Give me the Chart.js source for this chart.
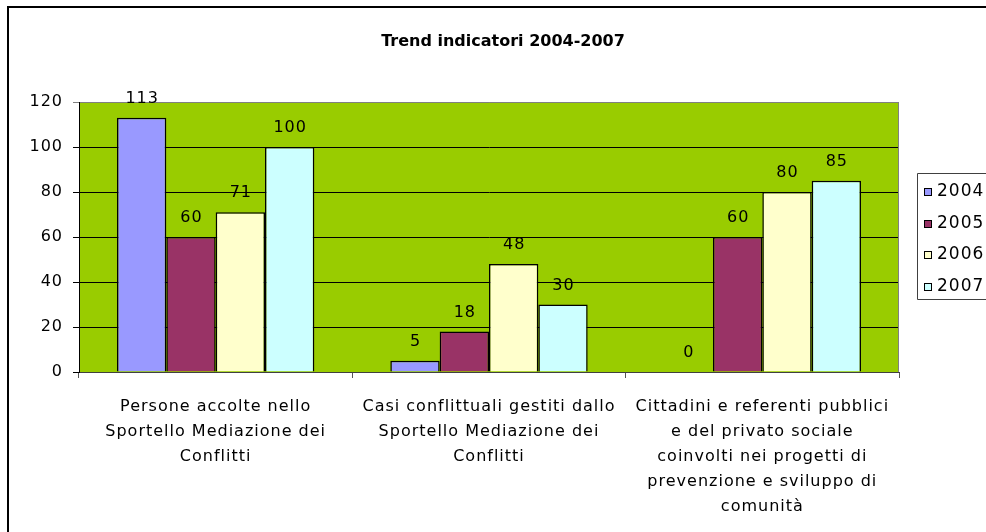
<!DOCTYPE html>
<html>
<head>
<meta charset="utf-8">
<script src="https://cdn.jsdelivr.net/npm/chart.js@4"></script>
<style>
  html, body { margin: 0; padding: 0; background: #ffffff; overflow: hidden; }
  #wrap { width: 986px; height: 532px; position: relative; overflow: hidden; }
  canvas { display: block; }
</style>
</head>
<body>
<div id="wrap"><canvas id="c" width="986" height="532"></canvas></div>
<script>
const chartTitle = 'Trend indicatori 2004-2007';
const categories = [
  ['Persone accolte nello', 'Sportello Mediazione dei', 'Conflitti'],
  ['Casi conflittuali gestiti dallo', 'Sportello Mediazione dei', 'Conflitti'],
  ['Cittadini e referenti pubblici', 'e del privato sociale', 'coinvolti nei progetti di', 'prevenzione e sviluppo di', 'comunità']
];
const seriesNames = ['2004', '2005', '2006', '2007'];
const values2004 = [113, 5, 0];
const values2005 = [60, 18, 60];
const values2006 = [71, 48, 80];
const values2007 = [100, 30, 85];
const seriesColors = ['#9999FF', '#993366', '#FFFFCC', '#CCFFFF'];
const yTicks = [0, 20, 40, 60, 80, 100, 120];

const FONT = 'DejaVu Sans';
Chart.defaults.font.family = FONT;
Chart.defaults.color = '#000000';

const allValues = [values2004, values2005, values2006, values2007];

const decorPlugin = {
  id: 'decor',
  beforeDraw(chart) {
    const ctx = chart.ctx;
    const a = chart.chartArea;
    ctx.save();
    ctx.fillStyle = '#ffffff';
    ctx.fillRect(0, 0, chart.width, chart.height);
    // outer frame (top and left edges visible)
    ctx.strokeStyle = '#000000';
    ctx.lineWidth = 2;
    ctx.beginPath();
    ctx.moveTo(8, chart.height + 5);
    ctx.lineTo(8, 7);
    ctx.lineTo(chart.width + 5, 7);
    ctx.stroke();
    // plot background
    ctx.fillStyle = '#99CC00';
    ctx.fillRect(a.left, a.top, a.right - a.left, a.bottom - a.top);
    ctx.restore();
    ctx.letterSpacing = '1px';
  },
  beforeDatasetsDraw(chart) {
    const ctx = chart.ctx;
    const a = chart.chartArea;
    ctx.save();
    ctx.strokeStyle = '#808080';
    ctx.lineWidth = 1;
    ctx.beginPath();
    ctx.moveTo(Math.round(a.right) - 0.5, a.top);
    ctx.lineTo(Math.round(a.right) - 0.5, a.bottom);
    ctx.stroke();
    ctx.restore();
  },
  afterDatasetsDraw(chart) {
    const ctx = chart.ctx;
    ctx.save();
    ctx.letterSpacing = '1px';
    ctx.font = '16px "' + FONT + '"';
    ctx.fillStyle = '#000000';
    ctx.textAlign = 'center';
    ctx.textBaseline = 'middle';
    chart.data.datasets.forEach((ds, i) => {
      const meta = chart.getDatasetMeta(i);
      meta.data.forEach((el, j) => {
        ctx.fillText(String(ds.data[j]), el.x + 0.5, el.y - 19);
      });
    });
    ctx.restore();
  },
  afterDraw(chart) {
    const ctx = chart.ctx;
    ctx.save();
    // title
    ctx.letterSpacing = '0px';
    ctx.font = 'bold 16px "' + FONT + '"';
    ctx.fillStyle = '#000000';
    ctx.textAlign = 'center';
    ctx.textBaseline = 'middle';
    ctx.fillText(chartTitle, 503, 42);
    // legend box (open on the right, clipped by the page)
    ctx.strokeStyle = '#404040';
    ctx.lineWidth = 1;
    ctx.beginPath();
    ctx.moveTo(chart.width + 5, 173.5);
    ctx.lineTo(917.5, 173.5);
    ctx.lineTo(917.5, 299.5);
    ctx.lineTo(chart.width + 5, 299.5);
    ctx.stroke();
    ctx.letterSpacing = '1px';
    ctx.font = '17px "' + FONT + '"';
    ctx.textAlign = 'left';
    chart.data.datasets.forEach((ds, i) => {
      const y = 192 + i * 31.5;
      ctx.fillStyle = ds.backgroundColor;
      ctx.fillRect(924.5, Math.round(y) - 3.5, 7, 7);
      ctx.strokeStyle = '#000000';
      ctx.strokeRect(924.5, Math.round(y) - 3.5, 7, 7);
      ctx.fillStyle = '#000000';
      ctx.fillText(ds.label, 937, y);
    });
    ctx.restore();
  }
};

new Chart(document.getElementById('c'), {
  type: 'bar',
  data: {
    labels: categories,
    datasets: seriesNames.map((name, i) => ({
      label: name,
      data: allValues[i],
      backgroundColor: seriesColors[i],
      borderColor: '#000000',
      borderWidth: 1.5,
      categoryPercentage: 0.722,
      barPercentage: 1.0
    }))
  },
  options: {
    responsive: false,
    animation: false,
    devicePixelRatio: 1,
    layout: { padding: { top: 102, left: 0, right: 87, bottom: 0 } },
    plugins: {
      legend: { display: false },
      title: { display: false },
      tooltip: { enabled: false }
    },
    scales: {
      x: {
        offset: true,
        afterFit(scale) { scale.height = 532 - 372; },
        grid: {
          offset: true,
          drawOnChartArea: false,
          drawTicks: true,
          tickLength: 6,
          color: '#555555',
          lineWidth: 1
        },
        border: { display: true, color: '#404040', width: 1 },
        ticks: {
          maxRotation: 0,
          minRotation: 0,
          autoSkip: false,
          padding: 16,
          color: '#000000',
          font: { size: 16, lineHeight: 1.5625 }
        }
      },
      y: {
        min: 0,
        max: 120,
        afterFit(scale) { scale.width = 79; },
        afterBuildTicks(scale) { scale.ticks = yTicks.map(v => ({ value: v })); },
        grid: {
          color: (c) => (c.tick && c.tick.value === 120) ? '#808080' : '#000000',
          lineWidth: 1,
          tickLength: 6,
          drawTicks: true
        },
        border: { display: true, color: '#000000', width: 1 },
        ticks: {
          padding: 10,
          color: '#000000',
          font: { size: 16 }
        }
      }
    }
  },
  plugins: [decorPlugin]
});
</script>
</body>
</html>
